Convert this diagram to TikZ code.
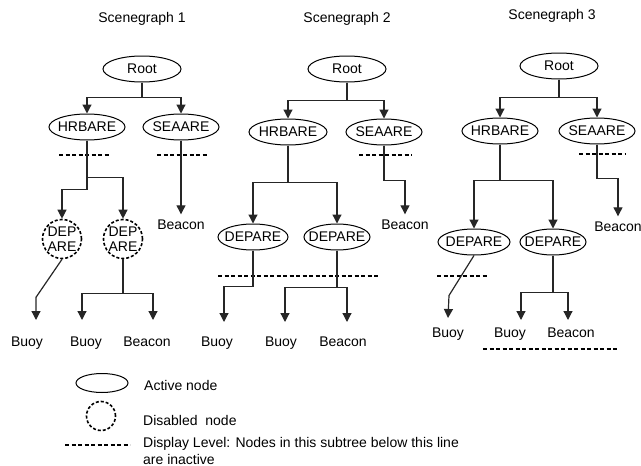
\documentclass[tikz,border=0pt]{standalone}
\usepackage{fontspec}
\setmainfont{Liberation Sans}
\usetikzlibrary{arrows.meta,shapes.geometric}
\newcommand{\mbx}[1]{\makebox[0pt]{#1}}
\begin{document}
\begin{tikzpicture}[x=1pt,y=-1pt,
  every node/.style={font=\fontsize{14}{15}\selectfont, inner sep=0pt},
  conn/.style={line width=1.2pt, draw=black!85},
  arr/.style={conn, -{Triangle[width=9pt,length=9pt]}},
  lvl/.style={line width=1.8pt, dash pattern=on 4pt off 2.5pt},
  act/.style={draw, line width=1pt, ellipse, minimum width=#1, minimum height=26pt},
  dis/.style={draw, circle, line width=1.6pt, dash pattern=on 3pt off 2pt, minimum size=39pt, align=center},
  lab/.style={text height=10pt, text depth=3pt},
  mid/.style={lab, inner ysep=5pt}]
\useasboundingbox (0,0) rectangle (641,466);

% ---------- Scenegraph 1 ----------
\node (t1) at (142,19) {Scenegraph 1};
\node[act=78pt] (r1) at (142,69) {\mbx{Root}};
\node[act=76pt] (h1) at (87,127) {\mbx{HRBARE}};
\node[act=76pt] (s1) at (181,127) {\mbx{SEAARE}};
\draw[arr] (r1.south) -- ++(0,15) -| (h1.north);
\draw[arr] (r1.south) ++(0,15) -| (s1.north);
\draw[lvl] (59,155) -- (110,155);
\draw[lvl] (157,155) -- (208,155);
\node[dis] (d11) at (62,239) {DEP\\ARE};
\node[dis] (d12) at (123,239) {DEP\\ARE};
\draw[arr] (h1.south) -- ++(0,49) -| (d11.north);
\draw[arr] (h1.south) ++(0,37) -| (d12.north);
\node[mid] (bc1) at (181,226) {Beacon};
\draw[arr] (s1.south) -- (bc1.north);
\coordinate (e11) at (36,320);
\coordinate (e12) at (82,320);
\coordinate (e13) at (153,320);
\node[lab] (b11) at (27,343) {Buoy};
\node[lab] (b12) at (86,343) {Buoy};
\node[lab] (b13) at (147,343) {Beacon};
\draw[arr] (d11.south) -- ++(-26,38) -- (e11);
\draw[conn] (d12.south) -- ++(0,34) coordinate (k12);
\draw[arr] (k12) -| (e12);
\draw[arr] (k12) -| (e13);

% ---------- Scenegraph 2 ----------
\node (t2) at (347,19) {Scenegraph 2};
\node[act=78pt] (r2) at (347,69) {\mbx{Root}};
\node[act=78pt] (h2) at (288,132) {\mbx{HRBARE}};
\node[act=76pt] (s2) at (384,132) {\mbx{SEAARE}};
\draw[arr] (r2.south) -- ++(0,18) -| (h2.north);
\draw[arr] (r2.south) ++(0,18) -| (s2.north);
\draw[lvl] (359,155) -- (412,155);
\node[mid] (bc2) at (405,226) {Beacon};
\draw[arr] (s2.south) -- ++(0,35) -| (bc2.north);
\node[act=70pt] (d21) at (253,237) {\mbx{DEPARE}};
\node[act=66pt] (d22) at (337,237) {\mbx{DEPARE}};
\draw[conn] (h2.south) -- ++(0,37) coordinate (k2);
\draw[arr] (k2) -| (d21.north);
\draw[arr] (k2) -| (d22.north);
\draw[lvl] (218,276) -- (378,276);
\coordinate (e21) at (224,322);
\coordinate (e22) at (285,322);
\coordinate (e23) at (347,322);
\node[lab] (b21) at (217,343) {Buoy};
\node[lab] (b22) at (281,343) {Buoy};
\node[lab] (b23) at (343,343) {Beacon};
\draw[arr] (d21.south) -- ++(0,36) -| (e21);
\draw[conn] (d22.south) -- ++(0,37) coordinate (k22);
\draw[arr] (k22) -| (e22);
\draw[arr] (k22) -| (e23);

% ---------- Scenegraph 3 ----------
\node (t3) at (552,16) {Scenegraph 3};
\node[act=78pt] (r3) at (559,66) {\mbx{Root}};
\node[act=76pt] (h3) at (500,131) {\mbx{HRBARE}};
\node[act=76pt] (s3) at (597,131) {\mbx{SEAARE}};
\draw[arr] (r3.south) -- ++(0,18) -| (h3.north);
\draw[arr] (r3.south) ++(0,18) -| (s3.north);
\draw[lvl] (579,154) -- (625,154);
\node[mid] (bc3) at (618,228) {Beacon};
\draw[arr] (s3.south) -- ++(0,34) -| (bc3.north);
\node[act=72pt] (d31) at (474,242) {\mbx{DEPARE}};
\node[act=66pt] (d32) at (553,242) {\mbx{DEPARE}};
\draw[conn] (h3.south) -- ++(0,36) coordinate (k3);
\draw[arr] (k3) -| (d31.north);
\draw[arr] (k3) -| (d32.north);
\draw[lvl] (437,276) -- (488,276);
\coordinate (e31) at (448,318);
\coordinate (e32) at (521,320);
\coordinate (e33) at (568,320);
\node[lab] (b31) at (448,334) {Buoy};
\node[lab] (b32) at (510,334) {Buoy};
\node[lab] (b33) at (571,334) {Beacon};
\draw[arr] (d31.south) -- ++(-25,40) -- (e31);
\draw[conn] (d32.south) -- ++(0,37) coordinate (k32);
\draw[arr] (k32) -| (e32);
\draw[arr] (k32) -| (e33);
\draw[lvl] (483,349) -- (617,349);

% ---------- Legend ----------
\node[act=52pt, minimum height=19pt] (la) at (102,383) {};
\node[anchor=west] (lat) at (144,385) {Active node};
\node[dis, minimum size=29pt] (ld) at (101,416) {};
\node[anchor=west] (ldt) at (143,420) {Disabled\ \ node};
\draw[lvl] (65,445) -- (130,445);
\node[anchor=west] (llt) at (143,444) {Display Level: Nodes in this subtree below this line};
\node[anchor=west] (llt2) at (143,459) {are inactive};
\end{tikzpicture}
\end{document}
